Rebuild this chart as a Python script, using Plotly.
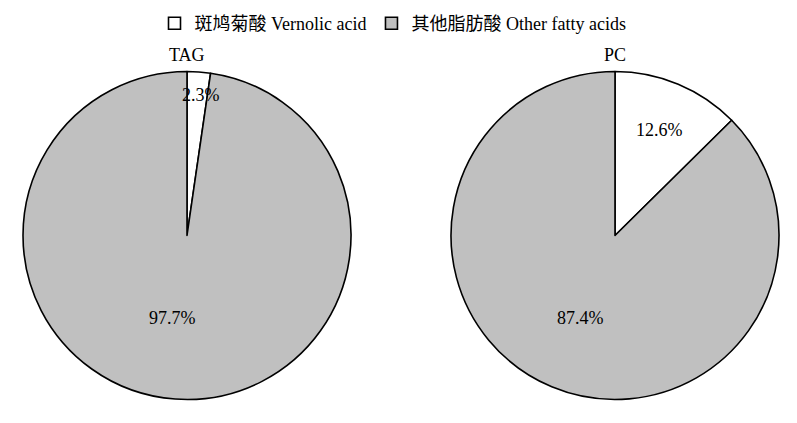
import plotly.graph_objects as go

labels = ["斑鸠菊酸 Vernolic acid", "其他脂肪酸 Other fatty acids"]
tag_values = [2.3, 97.7]
pc_values = [12.6, 87.4]
titles = ["TAG", "PC"]
colors = ["#ffffff", "#c0c0c0"]

W, H = 797, 423
OFF = 8  # page body margin offset
font_fam = "Liberation Serif, Noto Sans CJK SC, serif"

def px(x):
    return (x - OFF) / W

def py(y):
    return (H - (y - OFF)) / H

def dom(cx, cy, r):
    return dict(x=[px(cx - r), px(cx + r)], y=[py(cy + r), py(cy - r)])

pies = [
    dict(values=tag_values, title=titles[0], cx=187, cy=235.5, r=164,
         label_pos=[(201, 95), (172, 318)]),
    dict(values=pc_values, title=titles[1], cx=615, cy=235.5, r=164,
         label_pos=[(659, 130), (580, 318)]),
]

fig = go.Figure()
annotations = []
for p in pies:
    fig.add_trace(go.Pie(
        labels=labels, values=p["values"], sort=False, direction="clockwise", rotation=0,
        marker=dict(colors=colors, line=dict(color="black", width=1.6)),
        textinfo="none",
        domain=dom(p["cx"], p["cy"], p["r"]), hoverinfo="label+percent",
    ))
    annotations.append(dict(x=px(p["cx"]), y=py(55), xref="paper", yref="paper",
                            text=p["title"], showarrow=False, xanchor="center", yanchor="middle",
                            font=dict(family=font_fam, size=18, color="black")))
    for v, (lx, ly) in zip(p["values"], p["label_pos"]):
        annotations.append(dict(x=px(lx), y=py(ly), xref="paper", yref="paper",
                                text=f"{v:.1f}%", showarrow=False, xanchor="center", yanchor="middle",
                                font=dict(family=font_fam, size=18, color="black")))

fig.update_layout(
    width=W, height=H, margin=dict(l=0, r=0, t=0, b=0, autoexpand=False),
    paper_bgcolor="white", plot_bgcolor="white",
    showlegend=True,
    legend=dict(orientation="h", x=px(393), xanchor="center", y=py(5), yanchor="top",
                font=dict(family=font_fam, size=18, color="black"), itemwidth=30),
    annotations=annotations,
)
fig.write_html("out.html")
